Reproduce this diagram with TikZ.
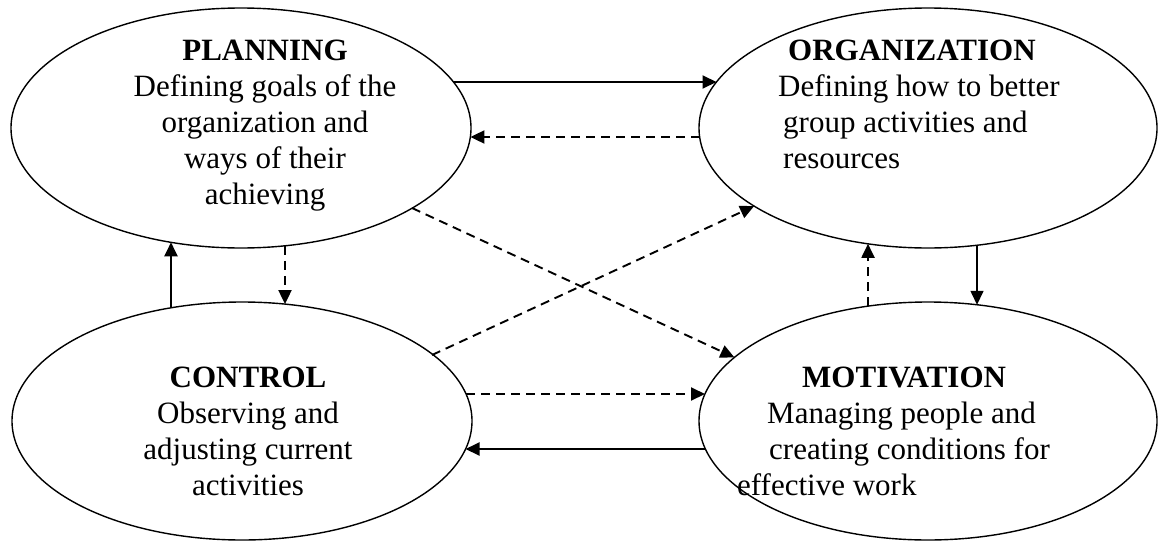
\documentclass[tikz,border=0pt]{standalone}
\usepackage{fontspec}
\setmainfont{Liberation Serif}
\usetikzlibrary{arrows.meta,shapes.geometric,calc}
\begin{document}
\begin{tikzpicture}[x=1pt,y=-1pt,
  func/.style={draw, ellipse, line width=1.4pt, inner sep=0pt,
    minimum width=460pt, minimum height=240pt},
  ftext/.style={font=\fontsize{31}{36}\selectfont, inner sep=0pt},
  link/.style={line width=1.9pt, -{Triangle[length=14pt,width=13pt]}},
  dlink/.style={link, dash pattern=on 9pt off 6pt},
]
\useasboundingbox (0,0) rectangle (1158,541);

% the four management functions
\node[func] (plan) at (241,128) {};
\node[func, minimum width=458pt] (org) at (928,128) {};
\node[func, minimum height=238pt] (ctrl) at (242,421) {};
\node[func, minimum width=458pt, minimum height=238pt] (mot) at (928,421) {};

% descriptions (anchored at the baseline of their last line)
\node[ftext, align=center, anchor=base] (plantext) at (265,204)
  {\textbf{PLANNING}\\Defining goals of the\\organization and\\ways of their\\achieving};
\node[ftext, align=left, anchor=base west] (orgtext) at (778,168)
  {\hspace*{10pt}\textbf{ORGANIZATION}\\Defining how to better\\\hspace*{5pt}group activities and\\\hspace*{5pt}resources};
\node[ftext, align=center, anchor=base] (ctrltext) at (248,495)
  {\textbf{CONTROL}\\Observing and\\adjusting current\\activities};
\node[ftext, align=left, anchor=base west] (mottext) at (767,495)
  {\hspace*{35pt}\textbf{MOTIVATION}\\Managing people and\\\hspace*{2pt}creating conditions for\\\hspace*{-30pt}effective work};

% horizontal links
\draw[link]  ($(plan.center)+(212.4,-46)$) -- ($(org.center)+(-211.5,-46)$);
\draw[dlink] ($(org.center)+(-228.4,9)$)   -- ($(plan.center)+(229.4,9)$);
\draw[dlink] ($(ctrl.center)+(224.0,-27)$) -- ($(mot.center)+(-223.0,-27)$);
\draw[link]  ($(mot.center)+(-222.6,28)$)  -- ($(ctrl.center)+(223.5,28)$);

% vertical links
\draw[link, line width=2.4pt] ($(ctrl.center)+(-71,-113.2)$) -- ($(plan.center)+(-70,114.3)$);
\draw[dlink] ($(plan.center)+(44,117.8)$)  -- ($(ctrl.center)+(43,-116.9)$);
\draw[dlink] ($(mot.center)+(-60,-114.8)$) -- ($(org.center)+(-60,115.8)$);
\draw[link, line width=1.4pt] ($(org.center)+(49,117.2)$) -- ($(mot.center)+(49,-116.2)$);

% diagonal links
\draw[dlink] ($(plan.center)+(171,80)$)   -- ($(mot.center)+(-193.6,-63.6)$);
\draw[dlink] ($(ctrl.center)+(190,-66)$)  -- ($(org.center)+(-173.9,78.1)$);
\end{tikzpicture}
\end{document}
